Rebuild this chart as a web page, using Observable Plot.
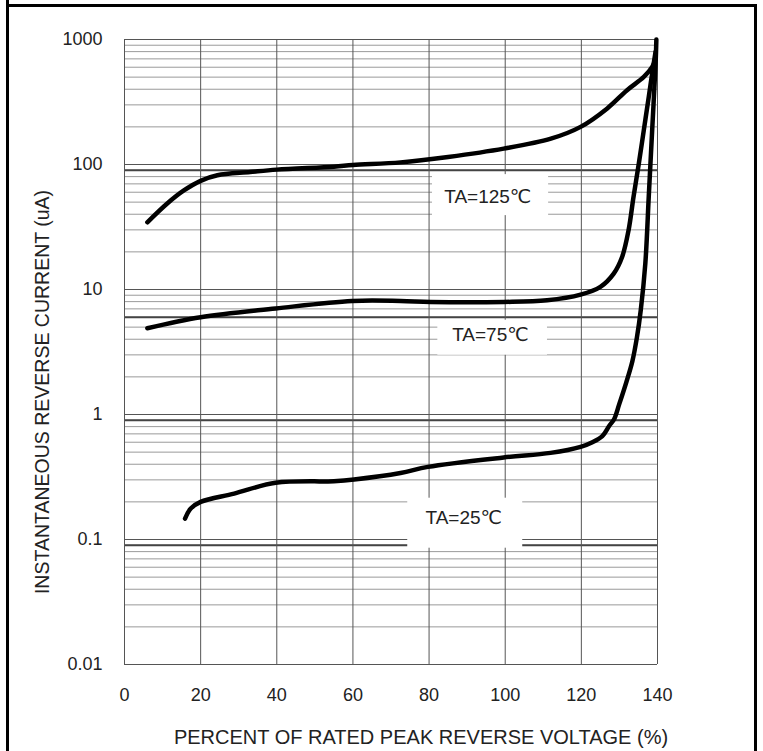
<!DOCTYPE html>
<html>
<head>
<meta charset="utf-8">
<script src="https://cdn.jsdelivr.net/npm/d3@7"></script>
<script src="https://cdn.jsdelivr.net/npm/@observablehq/plot@0.6"></script>
<style>
  html, body { margin: 0; padding: 0; background: #fff; }
  #wrap { position: relative; width: 763px; height: 751px; overflow: hidden; }
  #chart { position: absolute; left: 0; top: 0; }
  .edge { position: absolute; background: #000; z-index: 5; }
</style>
</head>
<body>
<div id="wrap">
  <div id="chart"></div>
  <div class="edge" style="left:6px; top:0; width:3px; height:751px;"></div>
  <div class="edge" style="left:6px; top:4px; width:751px; height:3px;"></div>
  <div class="edge" style="left:754px; top:4px; width:3px; height:747px;"></div>
</div>
<script>
// ---- data ----
const xTicks = [0, 20, 40, 60, 80, 100, 120, 140];
const yTicks = [0.01, 0.1, 1, 10, 100, 1000];
const yTickLabels = ["0.01", "0.1", "1", "10", "100", "1000"];
const yDarkGrid = [0.09, 0.9, 6, 90];

const pct125 = [6, 11.3, 15.6, 20, 24.4, 33, 40, 55, 60, 72.5, 85, 99.6, 112, 119.8, 126.8, 132, 136.4, 138.6, 139.5];
const cur125 = [34.5, 49, 62, 74, 82, 87, 91, 96, 99, 104, 115, 134, 161, 200, 281, 393, 502, 604, 700];

const pct75 = [6, 20, 39.7, 59.8, 72.5, 80.4, 99.6, 111, 119.8, 125, 128.5, 130.7, 132.4, 133.7, 135.1, 136.4, 137.7, 138.6, 139.5];
const cur75 = [4.9, 6.0, 7.05, 8.1, 8.1, 7.95, 7.95, 8.2, 9.1, 10.5, 13.4, 18.2, 29.8, 55, 102, 188, 347, 535, 800];

const pct25 = [15.9, 17.4, 20, 28.8, 39.7, 55, 60.3, 72.5, 79.7, 99.6, 111.9, 119.8, 122.9, 125.5, 127.3, 128.6, 129.95, 131.8, 133.4, 134.6, 135.6, 136.8, 137.7, 138.6, 139.5, 139.7];
const cur25 = [0.147, 0.177, 0.2, 0.233, 0.284, 0.293, 0.302, 0.34, 0.381, 0.453, 0.493, 0.551, 0.6, 0.671, 0.81, 0.917, 1.21, 1.81, 2.67, 4.15, 6.83, 16.1, 55, 188, 643, 1000];

const seriesNames = ["TA=125℃", "TA=75℃", "TA=25℃"];
const labelX = [95.4, 96.1, 89.1];
const labelY = [54.8, 4.31, 0.148];
const boxX1 = [80.9, 82.3, 74.4];
const boxX2 = [111.4, 111.1, 104.6];
const boxY1 = [39, 2.98, 0.0852];
const boxY2 = [83, 5.68, 0.214];

const xTitle = "PERCENT OF RATED PEAK REVERSE VOLTAGE (%)";
const yTitle = "INSTANTANEOUS REVERSE CURRENT (uA)";

// ---- tables ----
const curves = [
  ...pct125.map((x, i) => ({series: seriesNames[0], x, y: cur125[i]})),
  ...pct75.map((x, i) => ({series: seriesNames[1], x, y: cur75[i]})),
  ...pct25.map((x, i) => ({series: seriesNames[2], x, y: cur25[i]}))
];
const labels = seriesNames.map((t, i) => ({
  text: t, x: labelX[i], y: labelY[i], x1: boxX1[i], x2: boxX2[i], y1: boxY1[i], y2: boxY2[i]
}));
const yMinor = yTicks.slice(0, -1).flatMap(d => [2, 3, 4, 5, 6, 7, 8, 9].map(k => +(d * k).toPrecision(3)));

const font = "'Liberation Sans', Arial, 'DejaVu Sans', sans-serif";

const chart = Plot.plot({
  width: 763,
  height: 751,
  marginLeft: 124,
  marginRight: 106,
  marginTop: 39,
  marginBottom: 87,
  x: {domain: [0, 140]},
  y: {type: "log", domain: [0.01, 1000]},
  style: {fontFamily: font, fontSize: "18px", color: "#222", background: "white"},
  marks: [
    Plot.ruleY(yMinor, {stroke: "#9a9a9a", strokeWidth: 1, strokeOpacity: 1}),
    Plot.ruleY(yDarkGrid, {stroke: "#444", strokeWidth: 2, strokeOpacity: 1}),
    Plot.ruleY(yTicks, {stroke: "#555", strokeWidth: 1, strokeOpacity: 1}),
    Plot.ruleX(xTicks, {stroke: "#555", strokeWidth: 1, strokeOpacity: 1}),
    Plot.rect(labels, {x1: "x1", x2: "x2", y1: "y1", y2: "y2", fill: "white"}),
    Plot.line(curves, {x: "x", y: "y", z: "series", stroke: "#000", strokeWidth: 4.5, curve: "catmull-rom", strokeLinecap: "round", strokeLinejoin: "round"}),
    Plot.text(labels, {x: "x", y: "y", text: "text", fontSize: 19, fill: "#222"}),
    Plot.axisX({ticks: xTicks, tickSize: 0, tickPadding: 24, label: null, fontSize: 18}),
    Plot.axisY({ticks: yTicks, tickSize: 0, tickPadding: 22, label: null, fontSize: 18,
      tickFormat: d => yTickLabels[yTicks.indexOf(d)]}),
    Plot.text([xTitle], {text: d => d, frameAnchor: "bottom", textAnchor: "middle", lineAnchor: "middle", dy: 73, dx: 30, fontSize: 20, fill: "#222"}),
    Plot.text([yTitle], {text: d => d, frameAnchor: "left", textAnchor: "middle", lineAnchor: "middle", rotate: -90, dx: -82, dy: 40, fontSize: 19.5, fill: "#222"})
  ]
});
document.getElementById("chart").appendChild(chart);
</script>
</body>
</html>
